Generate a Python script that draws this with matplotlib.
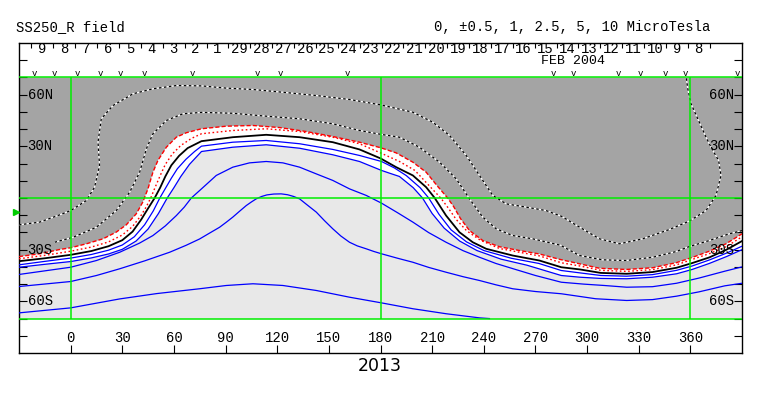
import matplotlib.pyplot as plt

### Contour lines (Carrington longitude, latitude in deg)
# upper red dashed line = edge of the dark (negative) region
r1_lon = [-30, -18, -6.4, 0, 9.1, 18.8, 26.5, 32.3, 38.1, 41.9, 44.9, 47.8, 50.7, 55.6, 61.4, 67.2, 76,
          90.4, 105.9, 121.4, 136.9, 152.3, 167.8, 180, 189.1, 198.8, 206.5, 213, 219, 222.5, 226.5,
          231.7, 239.4, 249.1, 260.7, 272.3, 284, 295.6, 307.2, 322.7, 338.1, 351.7, 361.4, 371, 380.7, 390]
r1_lat = [-34, -32.4, -29.9, -28.9, -26.6, -23.7, -19.8, -15.6, -9.2, -2.4, 5.3, 15, 21.8, 29.5, 35.3, 37.9, 40.2,
          41.7, 42.1, 40.9, 38.6, 35.7, 32.4, 29.2, 26.2, 20.8, 15, 7, 0, -5, -12,
          -18.9, -24.7, -28.3, -30.5, -32.5, -35.6, -38.2, -40.8, -41.5, -40.5, -37.6, -34.4, -30.9, -26.6, -20.8]

r2_lon = [-30, -15, 0, 12, 22, 30, 36, 41, 44, 46.5, 49, 52, 55, 59, 64, 70, 76, 94.2, 113.6, 133, 152.3,
          167.8, 180, 191, 200, 207, 215, 219.5, 224, 230, 238, 249.1, 260.7, 272.3, 285, 296, 308, 323,
          338, 352, 361, 371, 381, 390]
r2_lat = [-35.3, -33.3, -30.9, -28.5, -25.5, -21.5, -16.5, -10, -5, 0, 6, 13, 19.5, 25.5, 30.5, 34.5, 37.3,
          39.2, 40.2, 38.6, 35.3, 31.5, 26.2, 21.2, 16, 8.5, 0, -6, -12.5, -19, -24.5, -29.3, -31.5, -33.6,
          -37.6, -39.5, -42, -42.6, -41.6, -38.8, -35.7, -32.3, -28.2, -22.5]

# neutral line (black)
n_lon = [-30, -15, 0, 12, 22, 30, 36, 41, 45, 48.8, 52, 55, 58.5, 63, 68, 76, 94.2, 113.6, 133, 152.3, 167.8,
         180, 189.1, 198.8, 206.5, 211.5, 218.1, 225.9, 233.6, 241.4, 256.8, 272.3, 285, 296, 308, 323,
         338, 352, 361, 371, 381, 390]
n_lat = [-36.7, -35, -33, -30.8, -28, -24.5, -19.5, -12.5, -6, 0, 6, 12.5, 19, 24.5, 29, 33, 35.3, 36.7, 35.3,
         32.4, 28.2, 23, 17.9, 13.1, 6.3, 0, -10.2, -19.9, -25.7, -29.5, -33.4, -36.3, -40.2, -41.5, -43.5,
         -44, -43, -40.5, -37.8, -34.5, -30, -25]

# positive contours (blue)
b1_lon = [-30, -15, 0, 12, 22, 30, 37, 43, 48, 51.8, 55, 58.5, 62, 67, 72, 76, 94.2, 113.6, 133, 152.3, 167.8,
          180.6, 188, 195, 203, 208, 214, 221, 230, 240, 256, 272, 285, 296, 308, 323, 338, 352, 361, 371,
          381, 390]
b1_lat = [-38.8, -36.8, -34.9, -32.8, -30.3, -27.3, -22.5, -15.5, -7.5, 0, 5.5, 11.5, 17, 22.5, 27, 30.1, 32.4,
          33.4, 31.5, 28.2, 24.7, 21.2, 17.5, 13, 6, 0, -9.5, -18.5, -25.5, -30.5, -35, -38, -42.1, -43.5,
          -45, -45.4, -44.5, -42, -39.5, -36, -32, -28]

b2_lon = [-30, -15, 0, 12, 22, 30, 38, 45, 51, 56.1, 60, 64, 69, 76, 94.2, 113.6, 133, 152.3, 167.8, 180.6,
          185, 191, 199, 204.4, 210, 217, 226, 236, 250, 265, 285, 296, 308, 323, 338, 352, 361, 371, 381, 390]
b2_lat = [-40.2, -38.5, -36.9, -34.8, -32.5, -29.8, -25, -18, -9, 0, 6, 12.5, 19.5, 27, 29.5, 30.9, 28.9,
          25.1, 21.2, 16, 14.5, 12.5, 6, 0, -9, -17.5, -25, -30.5, -35.5, -39, -45, -46, -46.7, -46.9, -46,
          -44, -41.5, -38, -34, -30]

b3_lon = [-30, 0, 15, 28.5, 40, 47.8, 55, 61.4, 66, 70.1, 76, 84.6, 94.2, 103.9, 113.6, 123.3, 133, 142.7,
          152.3, 162, 171.7, 180.6, 190, 198.8, 208, 218.1, 228, 237.5, 247, 256.8, 270, 285, 298, 310, 323,
          338, 352, 365, 380, 390]
b3_lat = [-44.4, -40.2, -36.3, -31.5, -26.2, -21.8, -16.2, -10.2, -5.3, 0, 5.3, 13.1, 17.9, 20.4, 21.2,
          20.4, 17.9, 14, 10.2, 5.3, 1.5, -3, -8.6, -14, -20.1, -25.7, -30.6, -34.4, -38, -41, -45,
          -48.9, -50, -50.8, -51.8, -51.5, -49.5, -46.5, -42.5, -40]

b4_lon = [-30, 0, 15, 28.5, 43, 57.5, 67, 74.9, 80.5, 86.5, 90.5, 94.2, 98, 102, 105, 107.8, 111, 114,
          118, 122.3, 126, 129.5, 133, 137.5, 142.7, 147.5, 152.3, 157, 162, 166.5, 171.7, 176, 180.6,
          190, 198.8, 208, 218.1, 228, 237.5, 247, 256.8, 270, 285, 305, 323, 338, 352, 365, 380, 390]
b4_lat = [-51.4, -48.5, -45, -41.1, -36.5, -31.5, -27.5, -23.8, -20.5, -17, -14, -11.1, -7.8, -4.4, -2.3,
          -0.5, 0.9, 1.8, 2.3, 2.4, 1.9, 0.9, -0.5, -4.1, -8.2, -13.2, -17.9, -22.1, -25.7, -27.8, -29.5,
          -31, -32.4, -35, -37.3, -40.3, -43.1, -45.7, -47.9, -50.4, -52.7, -54.3, -55.6, -58.5, -59.5,
          -59, -57, -54.5, -51, -49.5]

b5_lon = [-30, 0, 28.5, 50, 74.9, 90.4, 105.9, 123.3, 142.7, 162, 180.6, 198.8, 218.1, 237.5, 243.3]
b5_lat = [-66.7, -63.8, -58.6, -55.5, -52.7, -50.8, -49.8, -50.8, -53.7, -57.6, -60.9, -64.3, -67.2,
          -69.6, -70]

# negative contours (dotted)
d1_lon = [-30, -18, -6.4, 0, 9.1, 13.9, 16.8, 15.9, 17.8, 24.6, 36.2, 47.8, 61.4, 76, 90.4, 105.9, 123.3,
          142.7, 162, 180, 198.8, 210.4, 220.1, 229.8, 237.5, 245.2, 253, 264.6, 276.2, 285.1, 295.6, 307.2,
          318.8, 332.3, 347.8, 359.4, 369.1, 374.9, 377.8, 376.4, 372, 369.1, 364.3, 360.4, 358.5, 357.6]
d1_lat = [-15.6, -14, -9.8, -7.3, -1.5, 6.3, 18.9, 32.4, 46, 53.7, 60.5, 63.4, 65.3, 65.1, 63.8, 63, 61.4,
          59.5, 57.2, 54.1, 49.8, 44, 36.3, 24.7, 13.1, 1.5, -3.4, -5.3, -7.3, -10.6, -16.9, -23.7,
          -26.6, -23.7, -18.3, -13.4, -7.3, 1.5, 13.1, 21.8, 29.5, 35.3, 46, 54.7, 63.4, 70]

d2_lon = [-9.3, 1.4, 14.9, 26.5, 34.3, 40.1, 44, 47.8, 55.6, 65.2, 76, 94.2, 113.6, 133, 152.3, 167.8, 180,
          191, 202.6, 214.3, 224, 231.7, 239.4, 247.2, 256.8, 268.4, 284.5, 295.6, 309.1, 322.7, 338.1,
          351.7, 359.4, 371, 382.6, 390]
d2_lat = [-25.7, -22.8, -17, -7.3, 3.4, 15, 28.6, 37.3, 45, 48.9, 49.7, 49.2, 47.5, 46, 43.1, 39.2, 37,
          35.3, 29.5, 20.8, 11.1, -0.5, -11.1, -17.9, -21.8, -23.7, -27.4, -33.4, -35.9, -36.3, -34.4,
          -31.1, -28.2, -24.7, -20.8, -18.9]

# top band: dates (Mar 9 .. Feb 8 2004), observation marks
day_labels = ["9", "8", "7", "6", "5", "4", "3", "2", "1", "29", "28", "27", "26", "25", "24", "23",
              "22", "21", "20", "19", "18", "17", "16", "15", "14", "13", "12", "11", "10", "9", "8"]
first_day_lon = -16.4
day_step = 12.71
obs_lon = [-21.3, -9.7, 4.2, 17.4, 29, 43, 70.7, 108.4, 121.9, 160.7, 280.6, 292.2, 318.4, 331, 345.5,
           357.1, 387.1]
sun_lat = -8.4

lon_ticks = list(range(0, 361, 30))
lat_labels = [60, 30, -30, -60]

mono = "Liberation Mono"
dark = "#a4a4a4"
light = "#e8e8e8"

fig = plt.figure(figsize=(7.63, 3.96), dpi=100)
ax = fig.add_axes([19/763, 43/396, 723/763, 310/396])
ax.set_xlim(-30, 390)
ax.set_ylim(-90, 90)

#### shading
ax.fill_between([-30, 390], -70, 70, color=light, lw=0, zorder=0)
ax.fill(r1_lon + b2_lon[::-1], r1_lat + b2_lat[::-1], color="white", lw=0, zorder=1)
ax.fill(r1_lon + [390, -30], r1_lat + [70, 70], color=dark, lw=0, zorder=1)

#### contours
for lo, la in [(d1_lon, d1_lat), (d2_lon, d2_lat)]:
    ax.plot(lo, la, color="white", lw=0.9, zorder=3)
    ax.plot(lo, la, color="black", lw=0.9, dashes=(2, 2), zorder=3)
ax.plot(r1_lon, r1_lat, color="red", lw=1.0, dashes=(3, 1.5), zorder=3)
ax.plot(r2_lon, r2_lat, color="red", lw=1.0, dashes=(1.2, 1.8), zorder=3)
ax.plot(n_lon, n_lat, color="black", lw=1.3, zorder=3)
for lo, la in [(b1_lon, b1_lat), (b2_lon, b2_lat), (b3_lon, b3_lat), (b4_lon, b4_lat), (b5_lon, b5_lat)]:
    ax.plot(lo, la, color="blue", lw=0.9, zorder=3)

#### green grid
ax.vlines([0, 180, 360], -70, 70, color="#00ee00", lw=1.1, zorder=4)
ax.hlines([-70, 0, 70], -30, 390, color="#00ee00", lw=1.1, zorder=4)

#### ticks + labels
ax.set_xticks(lon_ticks)
ax.set_yticks(range(-80, 81, 10))
ax.tick_params(axis="x", direction="in", length=6, width=0.8, labelbottom=False)
ax.tick_params(axis="y", direction="in", length=6, width=0.8, left=True, right=True, labelleft=False)
for sp in ax.spines.values():
    sp.set_linewidth(1.0)
for lo in lon_ticks:
    ax.text(lo, -81, str(lo), ha="center", va="center", fontsize=10, family=mono)
for la in lat_labels:
    lab = "%d%s" % (abs(la), "N" if la > 0 else "S")
    ax.text(-25, la, lab, ha="left", va="center", fontsize=10, family=mono, zorder=5)
    ax.text(385.6, la, lab, ha="right", va="center", fontsize=10, family=mono, zorder=5)

for i, d in enumerate(day_labels):
    lo = first_day_lon + i*day_step
    ax.text(lo, 86.3, d, ha="center", va="center", fontsize=10, family=mono)
    ax.vlines(lo - day_step/2, 87.3, 90, color="black", lw=0.8)
ax.vlines(first_day_lon + len(day_labels)*day_step - day_step/2, 87.3, 90, color="black", lw=0.8)
ax.text(291.8, 79.6, "FEB 2004", ha="center", va="center", fontsize=9.5, family=mono)
for lo in obs_lon:
    ax.text(lo, 72.4, "v", ha="center", va="center", fontsize=6.5, family=mono)
ax.plot(-31.5, sun_lat, marker=">", color="#00cc00", ms=4, clip_on=False, zorder=5)

fig.text(15.7/763, 1 - 26.7/396, "SS250_R field", ha="left", va="center", fontsize=10, family=mono)
fig.text(710/763, 1 - 26.7/396, "0, \u00b10.5, 1, 2.5, 5, 10 MicroTesla", ha="right", va="center",
         fontsize=10, family=mono)
fig.text(380/763, 1 - 366/396, "2013", ha="center", va="center", fontsize=12.5, family="DejaVu Sans")

fig.savefig("out.png", dpi=100)
